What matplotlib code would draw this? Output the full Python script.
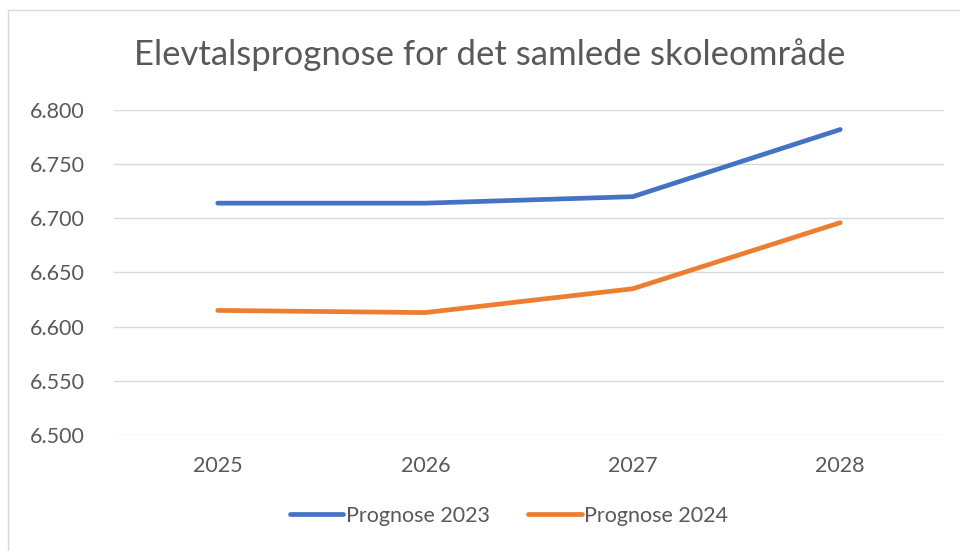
import matplotlib
matplotlib.use("Agg")
import matplotlib.pyplot as plt
from matplotlib.ticker import FuncFormatter
from matplotlib.patches import Rectangle

years = ["2025", "2026", "2027", "2028"]
prognose_2023 = [6714, 6714, 6720, 6782]
prognose_2024 = [6615, 6613, 6635, 6696]
y_ticks = [6500, 6550, 6600, 6650, 6700, 6750, 6800]

plt.rcParams['font.family'] = ['Lato', 'DejaVu Sans']
W, H = 960, 551
fig = plt.figure(figsize=(W/100, H/100), dpi=100)
fig.patch.set_facecolor('white')

# chart border
fig.patches.append(Rectangle((8/W, -0.05), 1.2, (H-10)/H + 0.05, transform=fig.transFigure,
                             fill=False, edgecolor='#D9D9D9', linewidth=1.0))

ax = fig.add_axes([114/W, 1-435/H, (944-114)/W, (435-110)/H])
x = list(range(len(years)))
ax.plot(x, prognose_2023, color='#4472C4', linewidth=3.4, solid_capstyle='round', label='Prognose 2023')
ax.plot(x, prognose_2024, color='#ED7D31', linewidth=3.4, solid_capstyle='round', label='Prognose 2024')

ax.set_xlim(-0.5, len(years)-0.5)
ax.set_ylim(6500, 6800)
ax.set_yticks(y_ticks)
ax.yaxis.set_major_formatter(FuncFormatter(lambda v, p: f"{int(v):,}".replace(",", ".")))
ax.set_xticks(x)
ax.set_xticklabels(years)
ax.grid(axis='y', color='#D9D9D9', linewidth=1.0)
ax.set_axisbelow(True)
for s in ax.spines.values():
    s.set_visible(False)
ax.tick_params(axis='both', length=0, colors='#595959', labelsize=15.5)
ax.tick_params(axis='y', pad=21)
ax.tick_params(axis='x', pad=15)

fig.text(490/W, 1-55/H, "Elevtalsprognose for det samlede skoleområde", ha='center', va='center',
         fontsize=25, color='#595959')

leg = fig.legend(loc='center', bbox_to_anchor=(509/W, 1-516/H), ncol=2, frameon=False,
                 fontsize=15.5, handlelength=2.5, columnspacing=1.8, handletextpad=0.1)
for t in leg.get_texts():
    t.set_color('#595959')

fig.savefig("out.png", dpi=100, facecolor='white')
